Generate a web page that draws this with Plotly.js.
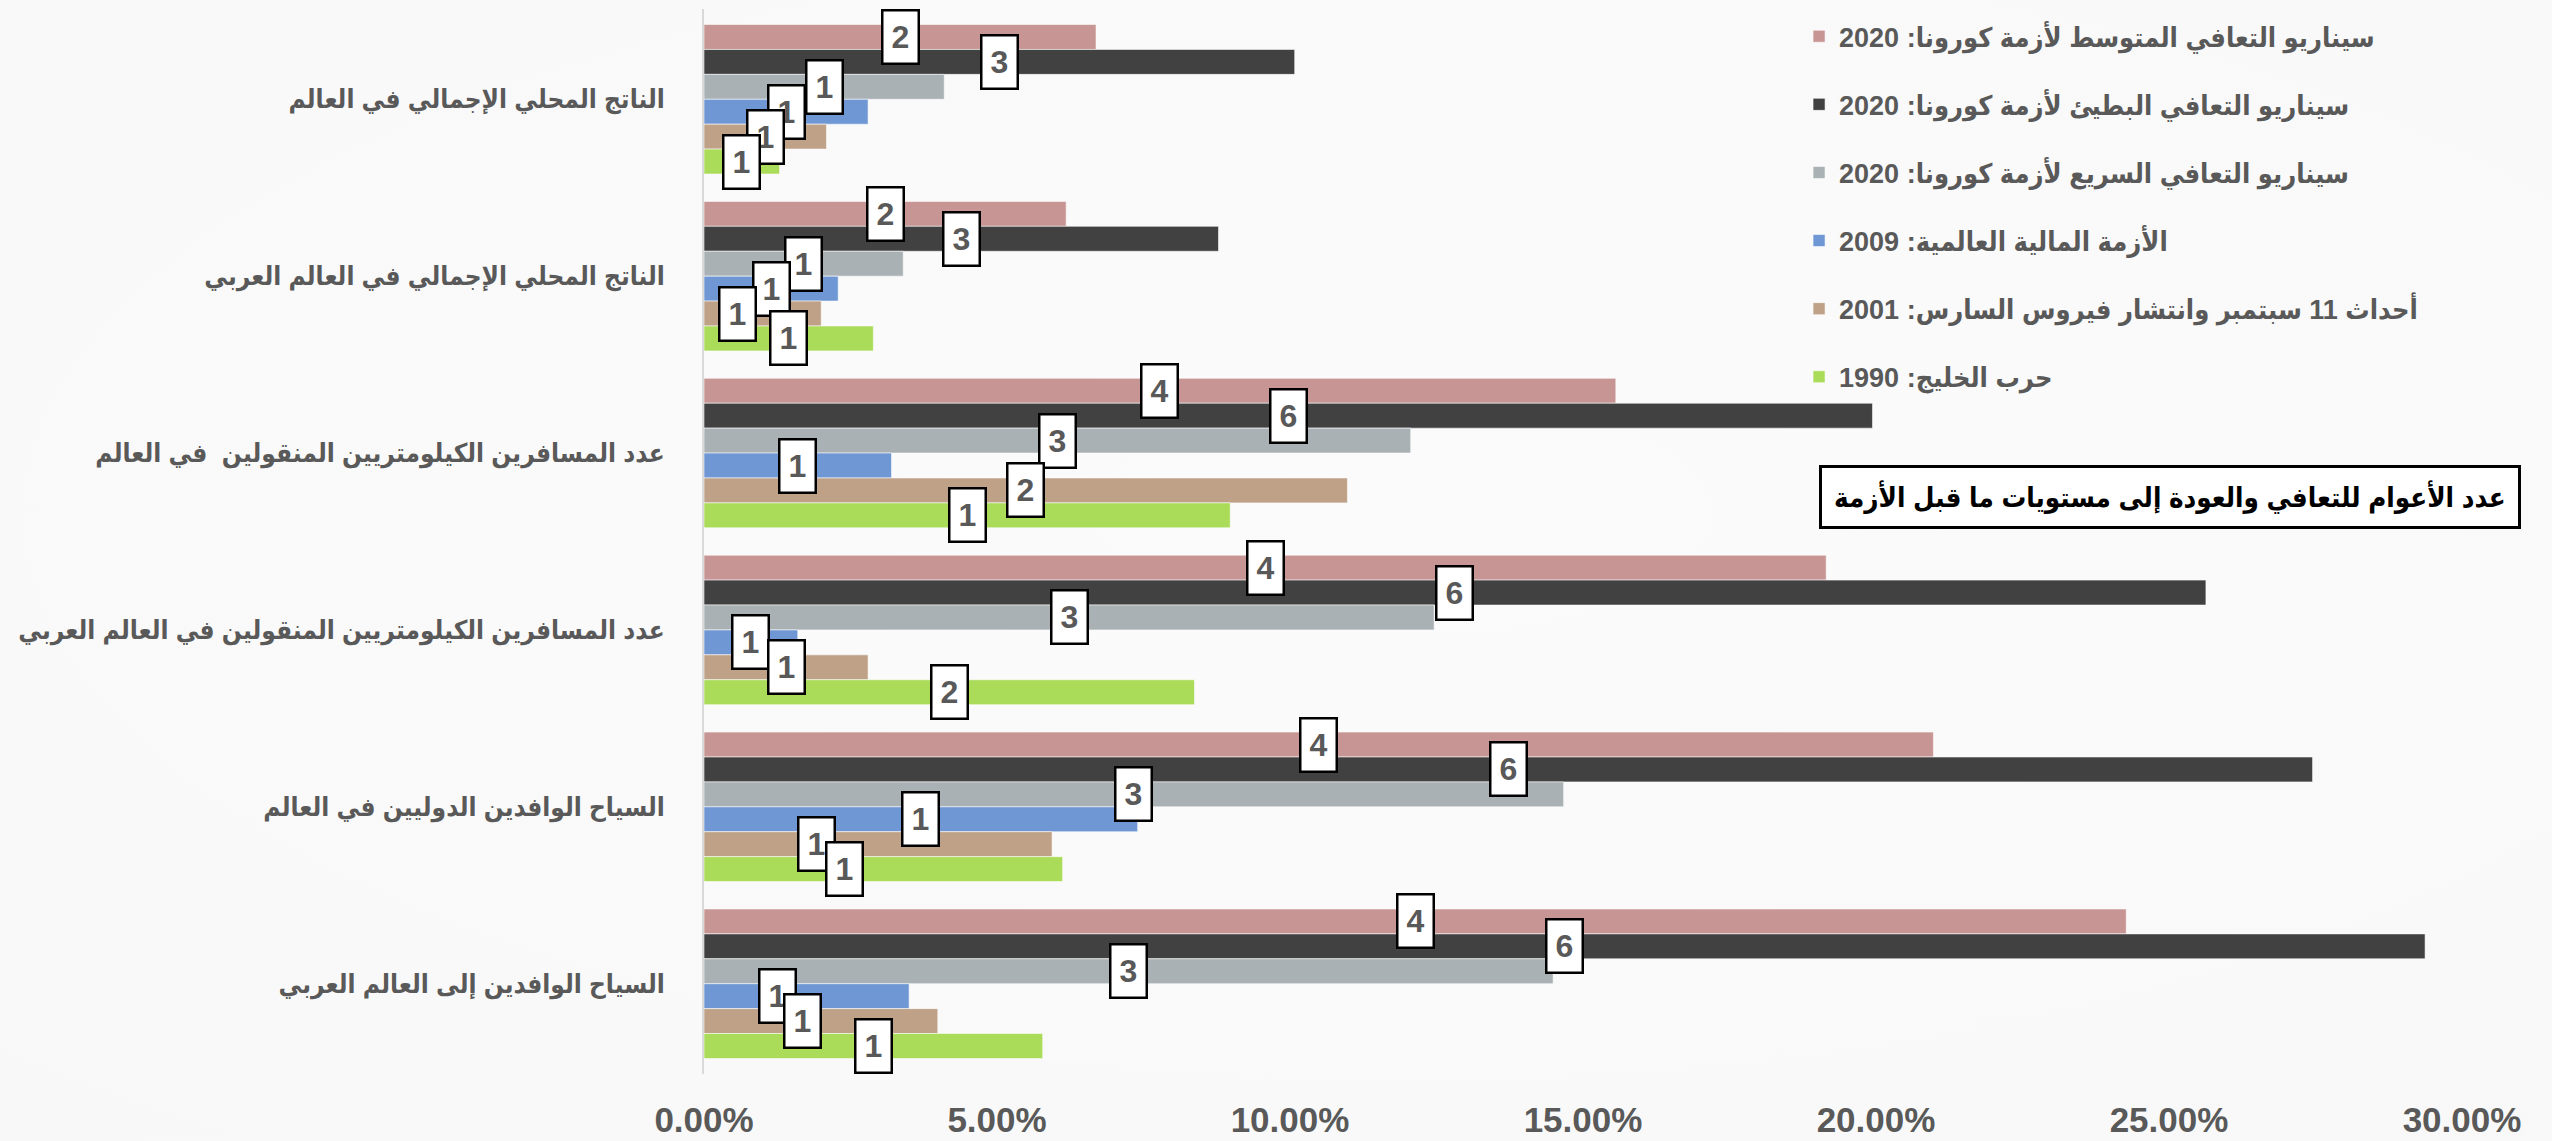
<!DOCTYPE html>
<html>
<head>
<meta charset="utf-8">
<script src="https://cdn.plot.ly/plotly-3.0.1.min.js"></script>
<style>
  html, body { margin: 0; padding: 0; }
  body { width: 2552px; height: 1141px; overflow: hidden;
    background: radial-gradient(ellipse 120% 110% at 55% 45%, #fbfbfb 0%, #f8f8f8 70%, #ececec 100%); }
  #chart { width: 2552px; height: 1141px; }
</style>
</head>
<body>
<div id="chart"></div>
<script>
// ---------------- data ----------------
const categories = [
  "الناتج المحلي الإجمالي في العالم",
  "الناتج المحلي الإجمالي في العالم العربي",
  "عدد المسافرين الكيلومتريين المنقولين  في العالم",
  "عدد المسافرين الكيلومتريين المنقولين في العالم العربي",
  "السياح الوافدين الدوليين في العالم",
  "السياح الوافدين إلى العالم العربي"
];
const seriesNames = [
  "سيناريو التعافي المتوسط لأزمة كورونا: 2020",
  "سيناريو التعافي البطيئ لأزمة كورونا: 2020",
  "سيناريو التعافي السريع لأزمة كورونا: 2020",
  "الأزمة المالية العالمية: 2009",
  "أحداث 11 سبتمبر وانتشار فيروس السارس: 2001",
  "حرب الخليج: 1990"
];
// share values (fraction), one array per series, in category order
const mediumCovid = [0.0669, 0.0618, 0.1556, 0.1915, 0.2098, 0.2427];
const slowCovid   = [0.1008, 0.0878, 0.1994, 0.2563, 0.2745, 0.2937];
const fastCovid   = [0.0410, 0.0340, 0.1206, 0.1246, 0.1467, 0.1449];
const crisis2009  = [0.0280, 0.0229, 0.0320, 0.0160, 0.0740, 0.0350];
const sars2001    = [0.0209, 0.0200, 0.1098, 0.0280, 0.0594, 0.0399];
const gulfWar1990 = [0.0129, 0.0289, 0.0898, 0.0837, 0.0612, 0.0578];
// years to recover (data labels)
const yearsMedium = [2, 2, 4, 4, 4, 4];
const yearsSlow   = [3, 3, 6, 6, 6, 6];
const yearsFast   = [1, 1, 3, 3, 3, 3];
const years2009   = [1, 1, 1, 1, 1, 1];
const years2001   = [1, 1, 2, 1, 1, 1];
const years1990   = [1, 1, 1, 2, 1, 1];
const xTickVals   = [0, 0.05, 0.10, 0.15, 0.20, 0.25, 0.30];
const boxNote = "عدد الأعوام للتعافي والعودة إلى مستويات ما قبل الأزمة";

// ---------------- styles ----------------
const values = [mediumCovid, slowCovid, fastCovid, crisis2009, sars2001, gulfWar1990];
const years  = [yearsMedium, yearsSlow, yearsFast, years2009, years2001, years1990];
const colors = ["#C79594", "#414141", "#AAB1B4", "#6F97D3", "#BEA187", "#AADB59"];
// manual horizontal nudges (px) of a few labels, as in the original
const labelNudge = [
  [0, 0, 0, 0, 0, 0],
  [0, 0, 0, 0, 0, 0],
  [0, 0, 0, 0, 0, 0],
  [0, 0, 0, 0, 0, -29],
  [0, -25, 0, 0, -62, -18],
  [0, 0, 0, 0, -39, 0]
];
const FONT = '"Liberation Sans", Arial, "DejaVu Sans Condensed", "DejaVu Sans", sans-serif';
const TXT = "#595959";
const bargap = 0.155;

const traces = values.map((v, i) => ({
  type: "bar",
  orientation: "h",
  name: seriesNames[i],
  legendgroup: "g" + i,
  x: v,
  y: categories,
  marker: { color: colors[i], line: { color: "rgba(255,255,255,0.55)", width: 1 } },
  hoverinfo: "skip"
}));

const nS = values.length;
const groupW = 1 - bargap;
const barW = groupW / nS;
const annotations = [];
values.forEach((v, i) => {
  v.forEach((val, c) => {
    annotations.push({
      xref: "x", yref: "y",
      x: val / 2,
      y: c - groupW / 2 + (i + 0.5) * barW,
      xshift: labelNudge[i][c],
      text: String(years[i][c]),
      showarrow: false,
      font: { family: FONT, size: 32, color: TXT, weight: "bold" },
      bgcolor: "#ffffff",
      bordercolor: "#000000",
      borderwidth: 2.5,
      borderpad: 0,
      width: 34,
      height: 51,
      align: "center",
      valign: "middle"
    });
  });
});
annotations.push({
  xref: "paper", yref: "paper",
  x: 0.834, y: 0.542,
  xanchor: "center", yanchor: "middle",
  text: boxNote,
  showarrow: false,
  font: { family: FONT, size: 27.5, color: "#000000", weight: "bold" },
  bgcolor: "#ffffff",
  bordercolor: "#000000",
  borderwidth: 3,
  borderpad: 12,
  align: "center"
});

const layout = {
  width: 2552,
  height: 1141,
  margin: { l: 704, r: 90, t: 9, b: 67, autoexpand: false },
  paper_bgcolor: "rgba(0,0,0,0)",
  plot_bgcolor: "rgba(0,0,0,0)",
  barmode: "group",
  bargap: bargap,
  bargroupgap: 0,
  font: { family: FONT, color: TXT },
  xaxis: {
    range: [0, 0.30],
    tickvals: xTickVals,
    tickformat: ".2%",
    showgrid: false,
    zeroline: false,
    showline: false,
    ticks: "",
    automargin: false,
    ticklabelstandoff: 22,
    tickfont: { family: FONT, size: 35, color: TXT, weight: "bold" }
  },
  yaxis: {
    type: "category",
    autorange: "reversed",
    showgrid: false,
    zeroline: false,
    showline: true,
    linecolor: "#d9d9d9",
    linewidth: 2,
    ticks: "",
    automargin: false,
    ticklabelstandoff: 32,
    tickfont: { family: FONT, size: 26, color: TXT, weight: "bold" }
  },
  legend: {
    x: 0.6229, xanchor: "left",
    y: 0.997, yanchor: "top",
    bgcolor: "rgba(0,0,0,0)",
    borderwidth: 0,
    traceorder: "grouped",
    tracegroupgap: 30,
    font: { family: FONT, size: 27, color: TXT, weight: "bold" }
  },
  showlegend: true,
  annotations: annotations
};

Plotly.newPlot("chart", traces, layout, { staticPlot: true, displayModeBar: false });
</script>
</body>
</html>
